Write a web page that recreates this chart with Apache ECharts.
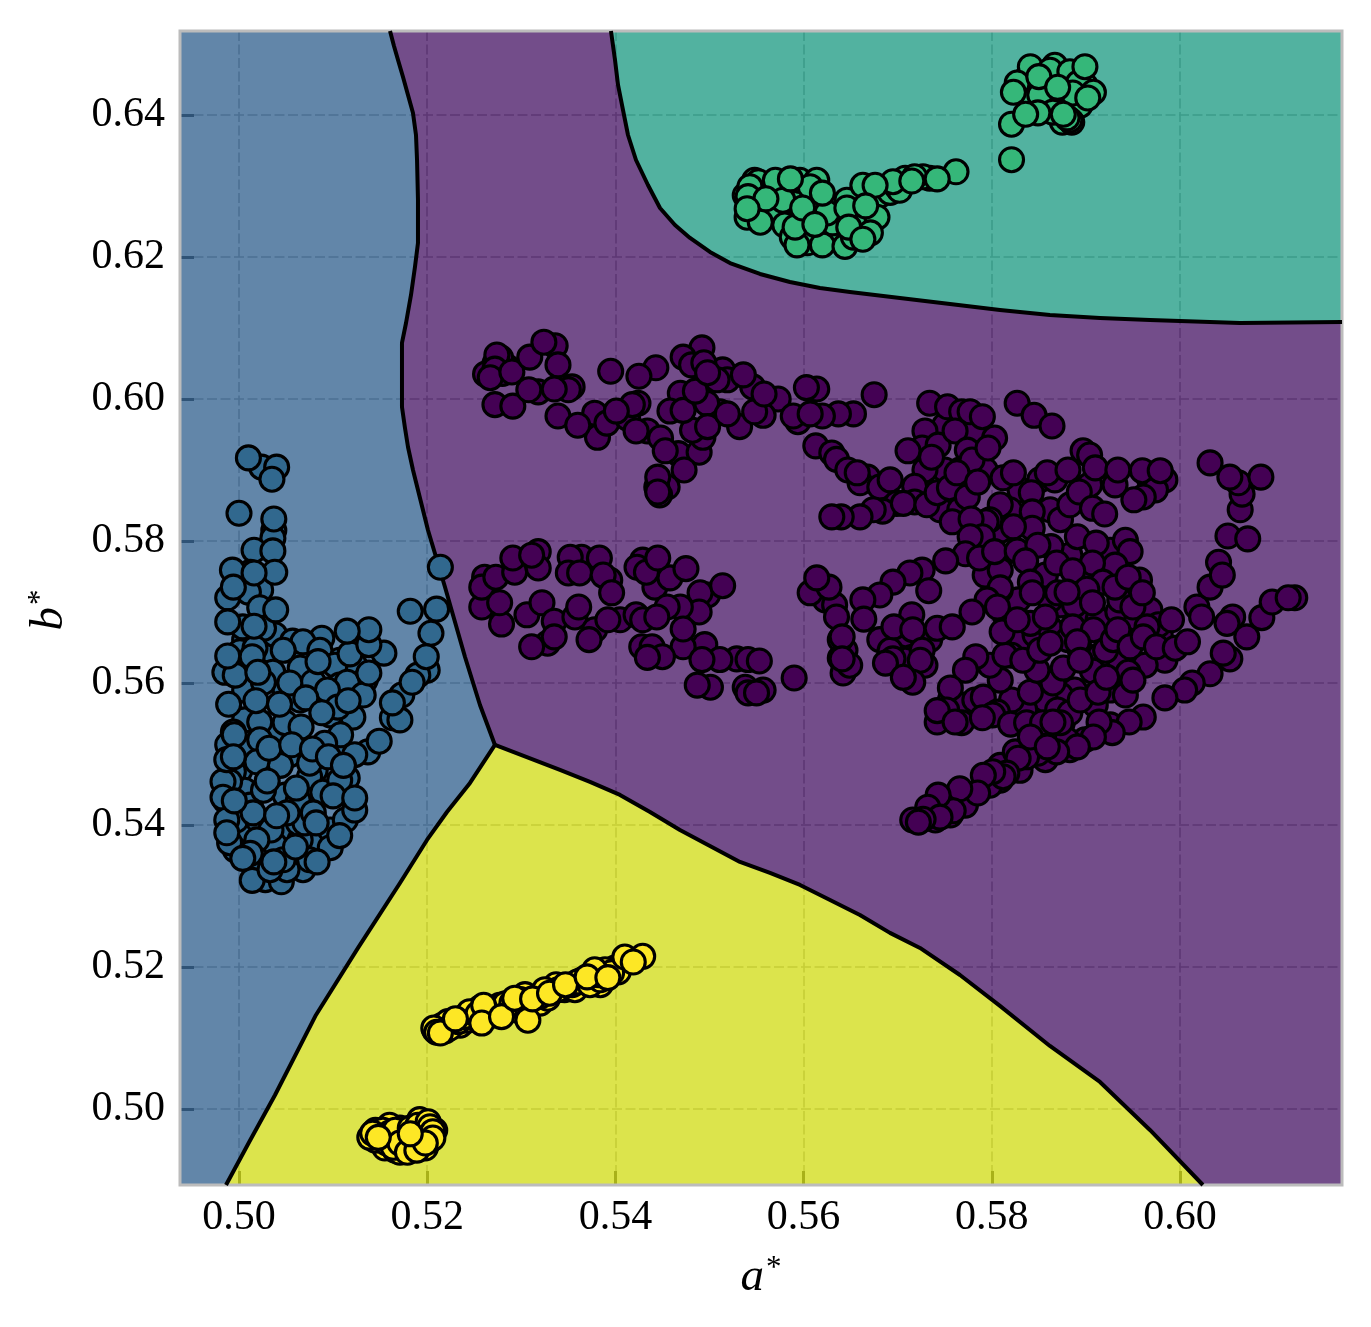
<!DOCTYPE html>
<html>
<head>
<meta charset="utf-8">
<title>Classifier regions in the a*-b* plane</title>
<style>html,body{margin:0;padding:0;background:#fff}#chart{width:1371px;height:1327px}</style>
<script src="https://cdn.jsdelivr.net/npm/echarts@6/dist/echarts.min.js"></script>
</head>
<body>
<div id="chart"></div>
<script>
// Axis ranges and tick values
const aRange = [0.49373, 0.61722];
const bRange = [0.48929, 0.65183];
const aTicks = [0.50, 0.52, 0.54, 0.56, 0.58, 0.60];
const bTicks = [0.50, 0.52, 0.54, 0.56, 0.58, 0.60, 0.62, 0.64];

// Decision boundaries (a*, b*), each running away from the triple point or across the plane
const edgeBluePurple = [[0.51605,0.65183],[0.51647,0.64972],[0.5169,0.64775],[0.51743,0.64535],[0.51796,0.64282],[0.51849,0.64028],[0.51881,0.63718],[0.51892,0.63366],[0.51902,0.62803],[0.51902,0.62197],[0.5187,0.61859],[0.51828,0.61465],[0.51775,0.6107],[0.51732,0.60789],[0.51732,0.59887],[0.51764,0.59592],[0.51796,0.59324],[0.51849,0.59],[0.51902,0.58718],[0.52008,0.58155],[0.52189,0.57352],[0.52402,0.56366],[0.52561,0.5569],[0.5272,0.55127]];
const edgeBlueYellow = [[0.5272,0.55127],[0.52455,0.54592],[0.5221,0.54183],[0.51998,0.53789],[0.51711,0.53183],[0.51265,0.5227],[0.50818,0.51324],[0.50383,0.50197],[0.50117,0.49556],[0.49862,0.48929]];
const edgePurpleYellow = [[0.5272,0.55127],[0.53411,0.54775],[0.5373,0.54606],[0.54049,0.54423],[0.54368,0.54183],[0.54686,0.5393],[0.55005,0.53704],[0.55324,0.53479],[0.55643,0.53324],[0.55962,0.53155],[0.56281,0.52944],[0.56599,0.52732],[0.56918,0.5248],[0.57237,0.52268],[0.57662,0.51887],[0.58087,0.51451],[0.58618,0.50887],[0.5915,0.5038],[0.59681,0.49704],[0.60244,0.48929]];
const edgeGreenPurple = [[0.53953,0.65183],[0.53996,0.64775],[0.54028,0.64423],[0.5407,0.64141],[0.54134,0.63718],[0.54219,0.63366],[0.54346,0.63014],[0.54474,0.6269],[0.54633,0.6245],[0.54793,0.62268],[0.55005,0.62071],[0.55218,0.61915],[0.55537,0.61761],[0.55855,0.61648],[0.56174,0.61563],[0.56493,0.61507],[0.57024,0.61423],[0.57556,0.61338],[0.58087,0.61254],[0.58618,0.61183],[0.5915,0.61141],[0.59681,0.61113],[0.60638,0.6107],[0.61722,0.61085]];

// Cluster 0, purple: upper left run, lower left run, then the right-hand groups
const purpleUpperLeft = [[.5272,.6050],[.5280,.6036],[.5262,.6035],[.5285,.6045],[.5278,.6058],[.5274,.6062],[.5272,.6042],[.5267,.6030],[.5290,.6038],[.5272,.5992],[.5291,.5990],[.5309,.6059],[.5336,.6075],[.5324,.6080],[.5339,.6048],[.5318,.6010],[.5308,.6013],[.5354,.6017],[.5350,.6013],[.5335,.6014],[.5339,.5976],[.5378,.5980],[.5381,.5946],[.5360,.5963],[.5391,.5966],[.5413,.5973],[.5424,.5994],[.5418,.5992],[.5401,.5983],[.5395,.6039],[.5443,.6044],[.5425,.6032],[.5434,.5955],[.5422,.5955],[.5448,.5945],[.5467,.5923],[.5489,.5925],[.5473,.5900],[.5453,.5927],[.5455,.5876],[.5447,.5865],[.5444,.5876],[.5445,.5890],[.5445,.5869],[.5492,.6072],[.5472,.6059],[.5481,.6048],[.5514,.6041],[.5519,.6027],[.5508,.6027],[.5494,.6051],[.5469,.6008],[.5458,.5983],[.5511,.5982],[.5497,.5994],[.5493,.5946],[.5482,.5956],[.5532,.5961],[.5498,.5961],[.5472,.5984],[.5485,.6011],[.5498,.6037],[.5519,.5979],[.5546,.6017],[.5536,.6034],[.5573,.6000],[.5557,.5977],[.5548,.5982],[.5558,.6007],[.5594,.5968],[.5589,.5976],[.5614,.6014],[.5603,.6016],[.5653,.5979],[.5637,.5979],[.5620,.5976],[.5607,.5979],[.5675,.6006],[.5613,.5934],[.5630,.5924],[.5635,.5915],[.5647,.5900],[.5668,.5890],[.5660,.5882],[.5657,.5896],[.5681,.5876],[.5692,.5886],[.5699,.5853],[.5684,.5842],[.5674,.5844],[.5660,.5834],[.5640,.5834],[.5630,.5834]];
const purpleLowerLeft = [[.5258,.5707],[.5261,.5749],[.5258,.5735],[.5273,.5749],[.5279,.5683],[.5277,.5713],[.5293,.5756],[.5291,.5776],[.5318,.5785],[.5318,.5762],[.5311,.5780],[.5306,.5696],[.5322,.5713],[.5328,.5656],[.5335,.5687],[.5311,.5651],[.5335,.5665],[.5364,.5777],[.5352,.5777],[.5350,.5755],[.5383,.5776],[.5362,.5755],[.5394,.5745],[.5387,.5752],[.5396,.5727],[.5357,.5693],[.5361,.5707],[.5378,.5675],[.5405,.5689],[.5392,.5689],[.5372,.5661],[.5429,.5773],[.5423,.5763],[.5442,.5735],[.5458,.5748],[.5433,.5756],[.5475,.5761],[.5445,.5776],[.5498,.5724],[.5490,.5727],[.5514,.5737],[.5489,.5700],[.5469,.5707],[.5455,.5707],[.5422,.5696],[.5429,.5689],[.5444,.5693],[.5495,.5654],[.5472,.5651],[.5472,.5676],[.5428,.5651],[.5439,.5651],[.5450,.5637],[.5434,.5636],[.5529,.5634],[.5511,.5633],[.5492,.5633],[.5541,.5633],[.5553,.5631],[.5501,.5594],[.5487,.5597],[.5538,.5594],[.5557,.5590],[.5541,.5586],[.5550,.5586],[.5590,.5607]];
const purpleRightFill = [[.5814,.5696],[.5832,.5661],[.5821,.5639],[.5846,.5668],[.5862,.5677],[.5873,.5710],[.5881,.5661],[.5899,.5703],[.5894,.5646],[.5913,.5689],[.5915,.5639],[.5934,.5700],[.5936,.5632],[.5952,.5682],[.5968,.5703],[.5979,.5668],[.5984,.5632],[.5963,.5625],[.5926,.5590],[.5942,.5583],[.5910,.5569],[.5888,.5590],[.5873,.5583],[.5857,.5576],[.5835,.5562],[.5821,.5576],[.5809,.5604],[.5798,.5625],[.5814,.5639],[.5942,.5661],[.5957,.5745],[.5936,.5717],[.5888,.5710],[.5862,.5717],[.5828,.5717],[.5809,.5731],[.5793,.5752],[.5809,.5759],[.5857,.5752],[.5883,.5780],[.5899,.5752],[.5926,.5787],[.5942,.5801],[.5830,.5872],[.5819,.5844],[.5809,.5815],[.5862,.5844],[.5873,.5830],[.5883,.5851],[.5766,.5900],[.5750,.5900],[.5729,.5900],[.5745,.5844],[.5766,.5844],[.5809,.5851],[.5798,.5830],[.5750,.5963],[.5782,.5956],[.5793,.5900],[.5851,.5886],[.5867,.5886],[.5904,.5879],[.5931,.5879],[.5968,.5886],[.5899,.5520],[.5926,.5541],[.5883,.5506],[.5857,.5492],[.5830,.5477],[.5809,.5463],[.5798,.5456],[.5772,.5428],[.5756,.5414],[.5740,.5407],[.5809,.5484],[.5825,.5503],[.5708,.5632],[.5729,.5625],[.5734,.5661],[.5708,.5668],[.5681,.5661],[.5692,.5646],[.5623,.5717],[.5633,.5710],[.5644,.5646],[.5756,.5576],[.5772,.5569],[.5782,.5576]];
const purpleRightUpper = [[.5734,.5994],[.5753,.5989],[.5768,.5982],[.5777,.5982],[.5790,.5975],[.5827,.5994],[.5845,.5977],[.5864,.5962],[.5729,.5955],[.5726,.5931],[.5711,.5927],[.5743,.5935],[.5736,.5918],[.5761,.5955],[.5774,.5928],[.5779,.5914],[.5803,.5945],[.5796,.5931],[.5718,.5877],[.5718,.5855],[.5706,.5853],[.5731,.5851],[.5742,.5868],[.5755,.5875],[.5763,.5896],[.5774,.5862],[.5785,.5883],[.5812,.5889],[.5823,.5896],[.5859,.5896],[.5881,.5900],[.5897,.5927],[.5904,.5921],[.5910,.5903],[.5934,.5900],[.5960,.5899],[.5984,.5886],[.5974,.5872],[.5961,.5862],[.5951,.5858],[.5979,.5899],[.5893,.5869],[.5907,.5846],[.5920,.5838],[.5842,.5868],[.5843,.5841],[.5843,.5818],[.5823,.5820],[.5758,.5827],[.5794,.5827],[.5778,.5831],[.5790,.5806],[.5777,.5806],[.5772,.5782],[.5751,.5772],[.5726,.5759],[.5713,.5755],[.5695,.5742],[.5681,.5724],[.5663,.5717],[.5733,.5730],[.5715,.5696],[.5809,.5734],[.5787,.5776],[.5803,.5785],[.5827,.5786],[.5863,.5792],[.5849,.5794],[.5836,.5772],[.5841,.5742],[.5843,.5727],[.5869,.5769],[.5891,.5806],[.5911,.5797],[.5947,.5785],[.5931,.5766],[.5907,.5769],[.5886,.5758],[.5918,.5742],[.5931,.5735],[.5901,.5732],[.5945,.5749],[.5870,.5727],[.5880,.5728]];
const purpleRightMiddle = [[.5907,.5713],[.5950,.5707],[.5960,.5727],[.5795,.5717],[.5806,.5707],[.5779,.5700],[.5607,.5727],[.5627,.5735],[.5614,.5748],[.5635,.5693],[.5639,.5661],[.5639,.5635],[.5664,.5690],[.5696,.5679],[.5716,.5675],[.5742,.5677],[.5758,.5679],[.5811,.5672],[.5841,.5684],[.5827,.5689],[.5857,.5693],[.5886,.5679],[.5908,.5675],[.5977,.5682],[.5991,.5689],[.5965,.5679],[.6018,.5707],[.6023,.5693],[.6032,.5735],[.6041,.5770],[.6045,.5752],[.6051,.5807],[.6072,.5803],[.6064,.5844],[.6066,.5866],[.6062,.5882],[.6053,.5890],[.6032,.5910],[.6086,.5890],[.6056,.5693],[.6050,.5684],[.6087,.5692],[.6098,.5714],[.6122,.5720],[.6115,.5720],[.6071,.5665]];
const purpleRightLower = [[.5641,.5665],[.5642,.5614],[.5649,.5625],[.5641,.5634],[.5726,.5646],[.5724,.5632],[.5695,.5634],[.5687,.5628],[.5716,.5601],[.5706,.5608],[.5783,.5637],[.5772,.5618],[.5756,.5593],[.5742,.5545],[.5752,.5562],[.5742,.5561],[.5768,.5544],[.5761,.5545],[.5791,.5580],[.5806,.5559],[.5801,.5555],[.5790,.5551],[.5820,.5542],[.5837,.5544],[.5854,.5544],[.5869,.5551],[.5875,.5544],[.5870,.5562],[.5883,.5558],[.5841,.5587],[.5865,.5600],[.5848,.5618],[.5833,.5632],[.5851,.5646],[.5862,.5656],[.5876,.5621],[.5891,.5658],[.5907,.5617],[.5921,.5646],[.5929,.5661],[.5934,.5675],[.5945,.5615],[.5947,.5651],[.5961,.5665],[.5975,.5651],[.5995,.5649],[.6008,.5658],[.5894,.5576],[.5913,.5587],[.5922,.5608],[.5950,.5604],[.5894,.5632],[.6053,.5634],[.6046,.5642],[.6032,.5613],[.6013,.5600],[.6005,.5590],[.5984,.5579],[.5961,.5552],[.5946,.5545],[.5928,.5530],[.5914,.5545],[.5908,.5524],[.5880,.5520],[.5873,.5544],[.5865,.5545],[.5891,.5510],[.5869,.5503],[.5849,.5501],[.5837,.5496],[.5828,.5494],[.5816,.5473],[.5812,.5468],[.5801,.5475],[.5791,.5470],[.5785,.5445],[.5766,.5451],[.5759,.5420],[.5743,.5442],[.5732,.5425],[.5745,.5411],[.5727,.5408],[.5716,.5407],[.5722,.5404],[.5841,.5524],[.5859,.5510]];

// Cluster 1, blue: the crowded lower layers first, the uppermost marks afterwards
const blueFill = [[.5006,.5661],[.5033,.5646],[.5038,.5668],[.5065,.5639],[.5006,.5590],[.5049,.5590],[.5065,.5576],[.5097,.5555],[.5006,.5548],[.5038,.5527],[.5012,.5506],[.5001,.5477],[.5006,.5449],[.5049,.5442],[.5075,.5442],[.5012,.5428],[.5054,.5393],[.5081,.5379],[.5038,.5372],[.5006,.5386],[.4996,.5365],[.5065,.5379],[.5028,.5323],[.5060,.5344],[.5097,.5393],[.5113,.5407],[.5107,.5499],[.5081,.5477],[.5054,.5499],[.4985,.5435],[.4988,.5513],[.5107,.5632],[.5123,.5625],[.5134,.5604]];
const blueLower = [[.5024,.5904],[.5040,.5904],[.5037,.5815],[.5036,.5804],[.5016,.5787],[.5012,.5756],[.4993,.5759],[.5023,.5731],[.5010,.5728],[.4988,.5720],[.5022,.5706],[.5026,.5677],[.5004,.5679],[.5200,.5618],[.5190,.5611],[.5173,.5583],[.5163,.5551],[.5171,.5548],[.5088,.5663],[.5057,.5659],[.5068,.5658],[.5154,.5642],[.5086,.5646],[.5065,.5621],[.5102,.5625],[.4985,.5615],[.4996,.5611],[.5001,.5644],[.5017,.5649],[.5036,.5615],[.5079,.5601],[.5026,.5601],[.5107,.5597],[.5115,.5601],[.5132,.5583],[.5121,.5552],[.5022,.5545],[.4994,.5531],[.5054,.5600],[.5094,.5590],[.5105,.5566],[.5022,.5520],[.5108,.5527],[.5137,.5503],[.5123,.5499],[.5115,.5466],[.4994,.5475],[.4990,.5461],[.5044,.5484],[.5019,.5489],[.5026,.5449],[.5075,.5468],[.5063,.5434],[.5089,.5446],[.5123,.5421],[.4997,.5407],[.5020,.5407],[.5034,.5393],[.5063,.5403],[.5070,.5403],[.5097,.5368],[.5019,.5379],[.5019,.5351],[.5068,.5337],[.5014,.5322],[.5045,.5320],[.4990,.5375],[.4983,.5461],[.4987,.5492],[.4983,.5439],[.4987,.5407],[.4987,.5389],[.5051,.5337],[.5033,.5337],[.5049,.5544],[.5075,.5487],[.5091,.5515],[.5107,.5463],[.5015,.5417],[.5079,.5417],[.5051,.5417],[.5012,.5360],[.5047,.5351],[.5075,.5351]];
const blueUpper = [[.5010,.5917],[.5035,.5887],[.5000,.5839],[.5037,.5831],[.5036,.5786],[.5038,.5756],[.5016,.5755],[.4994,.5735],[.5039,.5703],[.4988,.5686],[.5016,.5680],[.5214,.5763],[.5182,.5701],[.5210,.5704],[.5204,.5670],[.5199,.5637],[.5184,.5601],[.5163,.5572],[.5047,.5646],[.4988,.5638],[.5014,.5637],[.5020,.5615],[.5084,.5630],[.5118,.5641],[.5138,.5654],[.5138,.5675],[.5138,.5614],[.5115,.5673],[.4989,.5570],[.5018,.5575],[.5043,.5570],[.5071,.5579],[.5116,.5575],[.5088,.5558],[.5066,.5538],[.4995,.5527],[.5032,.5508],[.5056,.5513],[.5078,.5507],[.5095,.5496],[.5111,.5484],[.5149,.5518],[.4994,.5496],[.5030,.5462],[.5061,.5452],[.5100,.5441],[.5123,.5438],[.4995,.5434],[.5040,.5413],[.5082,.5403],[.5107,.5385],[.5060,.5369],[.5004,.5353],[.5037,.5348],[.5083,.5348]];

// Cluster 2, green: small upper right knot, then the elongated lower left group
const greenKnotFill = [[.5835,.6449],[.5857,.6442],[.5873,.6456],[.5878,.6414],[.5862,.6428],[.5841,.6421],[.5857,.6414],[.5899,.6442],[.5894,.6414],[.5875,.6390],[.5885,.6390]];
const greenKnot = [[.5841,.6468],[.5867,.6470],[.5862,.6463],[.5883,.6461],[.5827,.6445],[.5892,.6445],[.5886,.6431],[.5908,.6432],[.5851,.6428],[.5883,.6393],[.5865,.6404],[.5849,.6403],[.5880,.6396],[.5821,.6387],[.5821,.6337],[.5899,.6468],[.5850,.6454],[.5870,.6439],[.5823,.6432],[.5902,.6424],[.5876,.6401],[.5836,.6401]];
const greenTailFill = [[.5548,.6308],[.5564,.6294],[.5559,.6266],[.5570,.6259],[.5586,.6280],[.5601,.6287],[.5609,.6273],[.5580,.6245],[.5601,.6238],[.5612,.6224],[.5628,.6231],[.5639,.6259],[.5655,.6266],[.5660,.6287],[.5681,.6287],[.5692,.6291],[.5708,.6311],[.5734,.6311],[.5538,.6287],[.5545,.6259]];
const greenTail = [[.5552,.6306],[.5543,.6299],[.5541,.6285],[.5540,.6256],[.5570,.6308],[.5596,.6308],[.5614,.6308],[.5607,.6299],[.5578,.6280],[.5554,.6249],[.5588,.6228],[.5604,.6220],[.5593,.6217],[.5620,.6217],[.5644,.6215],[.5591,.6242],[.5631,.6248],[.5625,.6262],[.5646,.6280],[.5663,.6301],[.5668,.6249],[.5678,.6256],[.5671,.6234],[.5653,.6228],[.5699,.6299],[.5702,.6294],[.5695,.6306],[.5727,.6313],[.5718,.6313],[.5762,.6320],[.5742,.6310],[.5715,.6307],[.5676,.6301],[.5586,.6310],[.5620,.6290],[.5560,.6282],[.5540,.6268],[.5599,.6269],[.5646,.6269],[.5612,.6246],[.5648,.6242],[.5666,.6272],[.5663,.6225]];

// Cluster 3, yellow: long diagonal streak and the compact knot beneath it
const yellowStreakFill = [[.5208,.5111],[.5216,.5118],[.5222,.5123],[.5235,.5118],[.5243,.5125],[.5251,.5128],[.5256,.5142],[.5269,.5132],[.5277,.5146],[.5288,.5142],[.5296,.5139],[.5304,.5161],[.5320,.5149],[.5328,.5156],[.5337,.5175],[.5346,.5168],[.5357,.5168],[.5365,.5182],[.5378,.5177],[.5387,.5189],[.5400,.5199],[.5403,.5193],[.5384,.5175],[.5375,.5182]];
const yellowStreak = [[.5207,.5114],[.5210,.5108],[.5219,.5110],[.5224,.5114],[.5233,.5123],[.5240,.5130],[.5245,.5137],[.5254,.5134],[.5267,.5137],[.5272,.5142],[.5283,.5148],[.5290,.5149],[.5299,.5154],[.5304,.5148],[.5320,.5159],[.5325,.5168],[.5339,.5168],[.5354,.5175],[.5360,.5179],[.5373,.5175],[.5384,.5182],[.5382,.5189],[.5389,.5196],[.5396,.5192],[.5378,.5196],[.5214,.5107],[.5230,.5127],[.5260,.5146],[.5258,.5121],[.5279,.5130],[.5307,.5125],[.5293,.5156],[.5312,.5155],[.5330,.5163],[.5347,.5175],[.5370,.5186],[.5392,.5185],[.5410,.5214],[.5429,.5215],[.5419,.5207]];
const yellowKnotFill = [[.5145,.4970],[.5150,.4956],[.5155,.4945],[.5166,.4942],[.5171,.4939],[.5176,.4945],[.5184,.4945],[.5192,.4949],[.5198,.4945],[.5203,.4956],[.5208,.4970],[.5192,.4985],[.5171,.4973],[.5155,.4963],[.5145,.4956],[.5160,.4977]];
const yellowKnot = [[.5139,.4960],[.5153,.4970],[.5160,.4966],[.5157,.4952],[.5164,.4946],[.5166,.4970],[.5171,.4952],[.5179,.4939],[.5189,.4942],[.5182,.4973],[.5190,.4977],[.5201,.4982],[.5203,.4975],[.5206,.4968],[.5206,.4959],[.5198,.4952],[.5142,.4966],[.5148,.4960],[.5182,.4965]];

const regions = [
  // purple
  { fill: 'rgba(56,2,88,0.7)', outline: edgeBluePurple.concat(edgePurpleYellow.slice(1), [[aRange[1], bRange[0]]], edgeGreenPurple.slice().reverse()) },
  // blue
  { fill: 'rgba(32,82,132,0.7)', outline: edgeBluePurple.concat(edgeBlueYellow.slice(1), [[aRange[0], bRange[0]], [aRange[0], bRange[1]]]) },
  // green
  { fill: 'rgba(8,145,119,0.7)', outline: edgeGreenPurple.concat([[aRange[1], bRange[1]]]) },
  // yellow
  { fill: 'rgba(205,216,0,0.7)', outline: edgeBlueYellow.concat(edgePurpleYellow.slice().reverse().slice(0, -1)) }
];

const serifFont = '"Liberation Serif", "DejaVu Serif", serif';
const gridDash = { color: '#b4b4b4', width: 1.6, type: [10, 3.5] };
const axisNameRich = {
  v: { fontFamily: serifFont, fontStyle: 'italic', fontSize: 47, color: '#000' },
  s: { fontFamily: serifFont, fontSize: 31, color: '#000', padding: [0, 0, 18, 2] }
};

function scatterSeries(name, points, color) {
  return {
    name, type: 'scatter', data: points, z: 5, large: false, progressive: 0,
    symbol: 'circle', symbolSize: 24,
    itemStyle: { color, borderColor: '#000', borderWidth: 3.1, opacity: 1 },
    emphasis: { disabled: true }, silent: true
  };
}
function boundarySeries(points) {
  return {
    type: 'line', data: points, z: 4, showSymbol: false, symbol: 'none', smooth: false,
    lineStyle: { color: '#000', width: 4, join: 'round' }, silent: true
  };
}

const chart = echarts.init(document.getElementById('chart'), null, { renderer: 'canvas', width: 1371, height: 1327 });
chart.setOption({
  backgroundColor: '#fff',
  animation: false,
  grid: { left: 180, top: 31, width: 1162, height: 1154, containLabel: false },
  xAxis: {
    type: 'value', min: aRange[0], max: aRange[1], z: 0,
    name: '{v|a}{s|*}', nameLocation: 'middle', nameGap: 68,
    nameTextStyle: { rich: axisNameRich },
    axisLine: { show: false },
    axisTick: { show: true, inside: true, length: 14, lineStyle: { color: '#555', width: 3 }, customValues: aTicks },
    axisLabel: { customValues: aTicks, formatter: v => v.toFixed(2), fontFamily: serifFont, fontSize: 42, color: '#000', margin: 12 },
    splitLine: { show: true, lineStyle: gridDash, customValues: aTicks }
  },
  yAxis: {
    type: 'value', min: bRange[0], max: bRange[1], z: 0,
    name: '{v|b}{s|*}', nameLocation: 'middle', nameGap: 106,
    nameTextStyle: { rich: axisNameRich, padding: [0, 4, 0, 0] },
    axisLine: { show: false },
    axisTick: { show: true, inside: true, length: 14, lineStyle: { color: '#555', width: 3 }, customValues: bTicks },
    axisLabel: { customValues: bTicks, formatter: v => v.toFixed(2), fontFamily: serifFont, fontSize: 42, color: '#000', margin: 15 },
    splitLine: { show: true, lineStyle: gridDash, customValues: bTicks }
  },
  series: [
    {
      type: 'custom', coordinateSystem: 'cartesian2d', z: 2, silent: true, clip: true,
      data: regions.map((r, i) => [i]),
      renderItem: (params, api) => ({
        type: 'polygon',
        shape: { points: regions[params.dataIndex].outline.map(p => api.coord(p)) },
        style: { fill: regions[params.dataIndex].fill, stroke: null }
      })
    },
    boundarySeries(edgeBluePurple),
    boundarySeries(edgeBlueYellow),
    boundarySeries(edgePurpleYellow),
    boundarySeries(edgeGreenPurple),
    {
      // plot frame, above the filled regions
      type: 'custom', coordinateSystem: 'cartesian2d', z: 3, silent: true, clip: false,
      data: [[0]],
      renderItem: (params, api) => ({
        type: 'polygon',
        shape: { points: [[aRange[0], bRange[0]], [aRange[1], bRange[0]], [aRange[1], bRange[1]], [aRange[0], bRange[1]]].map(p => api.coord(p)) },
        style: { fill: 'none', stroke: '#bcbcbc', lineWidth: 3 }
      })
    },
    scatterSeries('purple', purpleRightFill.concat(purpleUpperLeft, purpleLowerLeft, purpleRightUpper, purpleRightMiddle, purpleRightLower), '#440154'),
    scatterSeries('blue', blueFill.concat(blueLower, blueUpper), '#31688e'),
    scatterSeries('green', greenKnotFill.concat(greenKnot, greenTailFill, greenTail), '#35b779'),
    scatterSeries('yellow', yellowStreakFill.concat(yellowStreak, yellowKnotFill, yellowKnot), '#fde725')
  ]
});
</script>
</body>
</html>
